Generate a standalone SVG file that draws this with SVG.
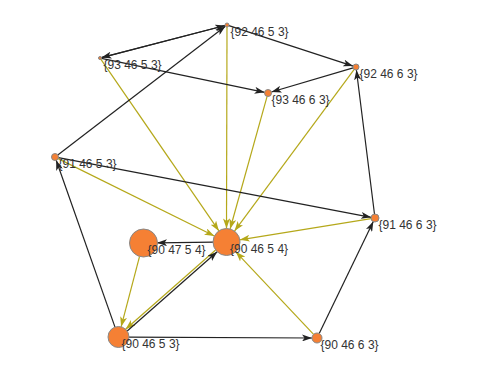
<svg xmlns="http://www.w3.org/2000/svg" width="491" height="375" viewBox="0 0 491 375">
<style>
.n{fill:#f58034;stroke:#888;stroke-width:1}
.t{font-family:"Liberation Sans",Arial,sans-serif;font-size:12px;fill:#333}
.k{stroke:#222;stroke-width:1.2;fill:none;marker-end:url(#ak)}
.y{stroke:#b5a81a;stroke-width:1.2;fill:none;marker-end:url(#ay)}
</style>
<defs>
<marker id="ak" markerUnits="userSpaceOnUse" markerWidth="10" markerHeight="7" refX="10" refY="3.5" orient="auto">
<path d="M0,0 L10,3.5 L0,7 L2.5,3.5 z" fill="#222"/>
</marker>
<marker id="ay" markerUnits="userSpaceOnUse" markerWidth="10" markerHeight="7" refX="10" refY="3.5" orient="auto">
<path d="M0,0 L10,3.5 L0,7 L2.5,3.5 z" fill="#b5a81a"/>
</marker>
</defs>
<rect width="491" height="375" fill="#fff"/>
<g id="edges">
<line class="y" x1="227" y1="27" x2="226.5" y2="228.5"/>
<line class="y" x1="100.8" y1="59.2" x2="218.9" y2="230.9"/>
<line class="y" x1="267.1" y1="96.4" x2="230.1" y2="229"/>
<line class="y" x1="354.2" y1="69.4" x2="234.5" y2="231.1"/>
<line class="y" x1="58.1" y1="158.6" x2="214.4" y2="236"/>
<line class="y" x1="371.1" y1="218.6" x2="239.8" y2="239.8"/>
<line class="y" x1="313.6" y1="334.4" x2="235.8" y2="251.8"/>
<line class="y" x1="139.5" y1="256.6" x2="121.1" y2="326.8"/>
<line class="y" x1="215.6" y1="250" x2="125.6" y2="329.2"/>
<line class="k" x1="225.1" y1="25.5" x2="101.5" y2="57.6"/>
<line class="k" x1="101.5" y1="57.6" x2="225.1" y2="25.5"/>
<line class="k" x1="101.5" y1="58.3" x2="264.6" y2="92.3"/>
<line class="k" x1="228.9" y1="25.6" x2="353.1" y2="66.1"/>
<line class="k" x1="353.1" y1="67.8" x2="271.4" y2="92"/>
<line class="k" x1="58.4" y1="157.7" x2="371.1" y2="217.3"/>
<line class="k" x1="57.8" y1="154.9" x2="225.4" y2="26.2"/>
<line class="k" x1="127.2" y1="331" x2="217.2" y2="251.8"/>
<line class="k" x1="115" y1="327.1" x2="56.2" y2="160.3"/>
<line class="k" x1="129" y1="337.05" x2="312" y2="338"/>
<line class="k" x1="319.2" y1="333.5" x2="373.3" y2="221.6"/>
<line class="k" x1="374.5" y1="214" x2="356.4" y2="70"/>
<line class="k" x1="213" y1="242.2" x2="157" y2="242.8"/>
</g>
<g id="n1"><circle class="n" cx="227" cy="25" r="2"/><text class="t" x="230.5" y="36">{92 46 5 3}</text></g>
<g id="n2"><circle class="n" cx="100" cy="58" r="1.5"/><text class="t" x="103.5" y="69">{93 46 5 3}</text></g>
<g id="n3"><circle class="n" cx="356" cy="67" r="3"/><text class="t" x="359.5" y="78">{92 46 6 3}</text></g>
<g id="n4"><circle class="n" cx="268" cy="93" r="3.5"/><text class="t" x="271.5" y="104">{93 46 6 3}</text></g>
<g id="n5"><circle class="n" cx="55" cy="157" r="3.5"/><text class="t" x="58.5" y="168">{91 46 5 3}</text></g>
<g id="n6"><circle class="n" cx="375" cy="218" r="4"/><text class="t" x="378.5" y="229">{91 46 6 3}</text></g>
<g id="n7"><circle class="n" cx="143.5" cy="243" r="14"/><text class="t" x="147.5" y="254">{90 47 5 4}</text></g>
<g id="n8"><circle class="n" cx="226.5" cy="242" r="13.5"/><text class="t" x="230" y="253">{90 46 5 4}</text></g>
<g id="n9"><circle class="n" cx="118.5" cy="337" r="10.5"/><text class="t" x="121.5" y="348">{90 46 5 3}</text></g>
<g id="n10"><circle class="n" cx="317" cy="338" r="5"/><text class="t" x="320.5" y="349">{90 46 6 3}</text></g>
</svg>
